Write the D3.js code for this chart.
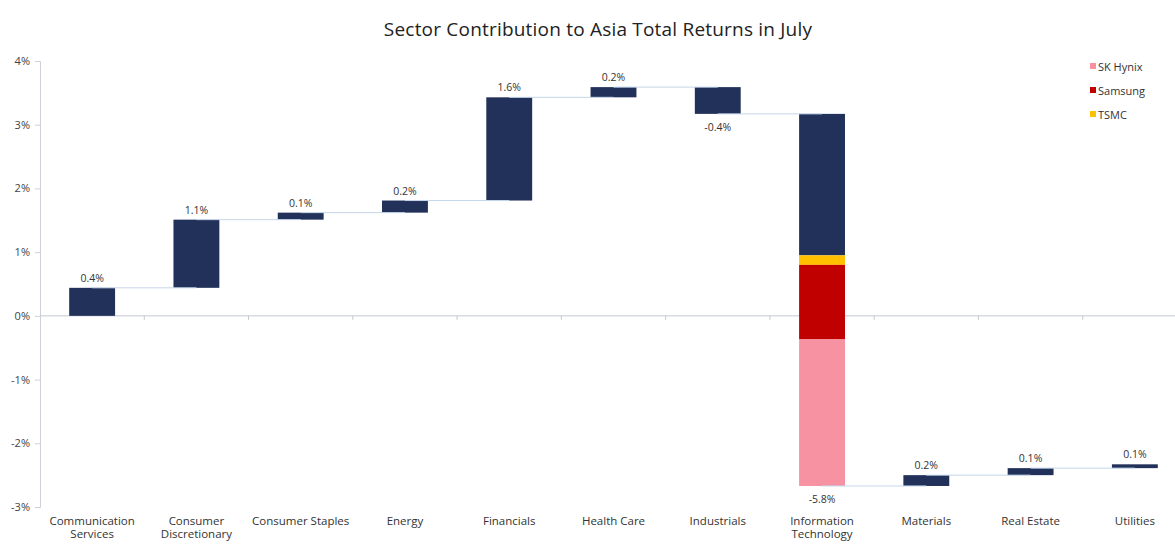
<!DOCTYPE html>
<html>
<head>
<meta charset="utf-8">
<script src="https://cdn.jsdelivr.net/npm/d3@7"></script>
<style>
  body { margin: 0; background: #fff; }
  svg text { font-family: "Open Sans", "Noto Sans", sans-serif; }
</style>
</head>
<body>
<svg id="chart"></svg>
<script>
// data (percent contribution)
const sectors = ["Communication Services", "Consumer Discretionary", "Consumer Staples", "Energy",
  "Financials", "Health Care", "Industrials", "Information Technology", "Materials", "Real Estate", "Utilities"];
const contributions = [0.44, 1.07, 0.11, 0.19, 1.62, 0.16, -0.42, -5.84, 0.17, 0.11, 0.06];

// breakdown of the IT bar
const itStocks = ["SK Hynix", "Samsung", "TSMC"];
const itStockValues = [-2.30, -1.17, -0.15];
const stockColors = ["#f692a2", "#c00000", "#ffc000"];

const yTicks = [4, 3, 2, 1, 0, -1, -2, -3];

const width = 1175, height = 555;
const margin = { top: 61, right: -12, bottom: 48, left: 40 };
const navy = "#22315a";

const svg = d3.select("#chart").attr("width", width).attr("height", height);

// running totals
let run = 0;
const bars = sectors.map((s, i) => {
  const start = run;
  run += contributions[i];
  return { sector: s, value: contributions[i], start: start, end: run };
});

const x = d3.scaleBand()
  .domain(sectors)
  .range([margin.left, width - margin.right])
  .paddingInner(0.56)
  .paddingOuter(0.28);

const y = d3.scaleLinear()
  .domain([-3, 4])
  .range([height - margin.bottom, margin.top]);

// title
svg.append("text")
  .attr("x", 598).attr("y", 36)
  .attr("text-anchor", "middle")
  .attr("font-size", 19)
  .attr("letter-spacing", 0.2)
  .attr("fill", "#222")
  .text("Sector Contribution to Asia Total Returns in July");

// Y Axis
const yAxis = svg.append("g")
  .attr("transform", `translate(${margin.left},0)`)
  .call(d3.axisLeft(y).tickValues(yTicks).tickFormat(d => d + "%").tickSize(5).tickPadding(5));
yAxis.select(".domain").attr("stroke", "#cdd0d8");
yAxis.selectAll(".tick line").attr("stroke", "#cdd0d8");
yAxis.selectAll("text").attr("font-size", 11).attr("fill", "#444");

// X Axis at zero (ticks between bands)
const step = x.step();
const bounds = d3.range(1, sectors.length).map(i => x(sectors[i]) - step * x.paddingInner() / 2);
svg.append("line")
  .attr("x1", margin.left).attr("x2", width)
  .attr("y1", y(0)).attr("y2", y(0))
  .attr("stroke", "#c6c9d4");
svg.append("g")
  .selectAll("line")
  .data(bounds)
  .join("line")
  .attr("x1", d => d).attr("x2", d => d)
  .attr("y1", y(0)).attr("y2", y(0) + 4)
  .attr("stroke", "#c6c9d4");

// category labels under the plot
const catLabels = svg.append("g")
  .selectAll("text")
  .data(sectors)
  .join("text")
  .attr("x", d => x(d) + x.bandwidth() / 2)
  .attr("y", height - margin.bottom + 18)
  .attr("text-anchor", "middle")
  .attr("font-size", 11.5)
  .attr("fill", "#333");
catLabels.each(function(d) {
  const t = d3.select(this);
  const two = ["Communication Services", "Consumer Discretionary", "Information Technology"];
  if (two.includes(d)) {
    const parts = d.split(" ");
    t.append("tspan").attr("x", x(d) + x.bandwidth() / 2).text(parts[0]);
    t.append("tspan").attr("x", x(d) + x.bandwidth() / 2).attr("dy", 13).text(parts[1]);
  } else {
    t.text(d);
  }
});

// Bars
const cx = d => x(d.sector) + x.bandwidth() / 2;
svg.append("g")
  .selectAll("rect")
  .data(bars.filter(d => d.sector !== "Information Technology"))
  .join("rect")
  .attr("x", d => x(d.sector))
  .attr("y", d => y(Math.max(d.start, d.end)))
  .attr("width", x.bandwidth())
  .attr("height", d => Math.abs(y(d.start) - y(d.end)))
  .attr("fill", navy);

// IT bar stacked: rest of IT on top, then TSMC, Samsung, SK Hynix
const it = bars.find(d => d.sector === "Information Technology");
const rest = it.value - d3.sum(itStockValues);
const segs = [{ name: "Other", v: rest, color: navy }];
for (let i = itStocks.length - 1; i >= 0; i--) segs.push({ name: itStocks[i], v: itStockValues[i], color: stockColors[i] });
let lvl = it.start;
segs.forEach(s => { s.top = lvl; lvl += s.v; s.bottom = lvl; });
svg.append("g")
  .selectAll("rect")
  .data(segs)
  .join("rect")
  .attr("x", x(it.sector))
  .attr("y", d => y(d.top))
  .attr("width", x.bandwidth())
  .attr("height", d => y(d.bottom) - y(d.top))
  .attr("fill", d => d.color);

// connectors
svg.append("g")
  .selectAll("line")
  .data(bars.slice(0, -1))
  .join("line")
  .attr("x1", (d, i) => cx(d))
  .attr("x2", (d, i) => cx(bars[i + 1]))
  .attr("y1", d => y(d.end)).attr("y2", d => y(d.end))
  .attr("stroke", "#c5d6ea")
  .attr("stroke-width", 1);

// value labels
svg.append("g")
  .selectAll("text")
  .data(bars)
  .join("text")
  .attr("x", d => cx(d))
  .attr("y", d => d.value >= 0 ? y(d.end) - 6 : y(d.end) + 17)
  .attr("text-anchor", "middle")
  .attr("font-size", 10.5)
  .attr("fill", "#333")
  .text(d => d.value.toFixed(1) + "%");

// legend
const legend = svg.append("g").attr("transform", "translate(1090,62)");
itStocks.forEach((name, i) => {
  const g = legend.append("g").attr("transform", `translate(0,${i * 24})`);
  g.append("rect").attr("width", 6).attr("height", 6).attr("y", 1).attr("fill", stockColors[i]);
  g.append("text").attr("x", 8).attr("y", 8.5).attr("font-size", 11).attr("fill", "#333").text(name);
});
</script>
</body>
</html>
